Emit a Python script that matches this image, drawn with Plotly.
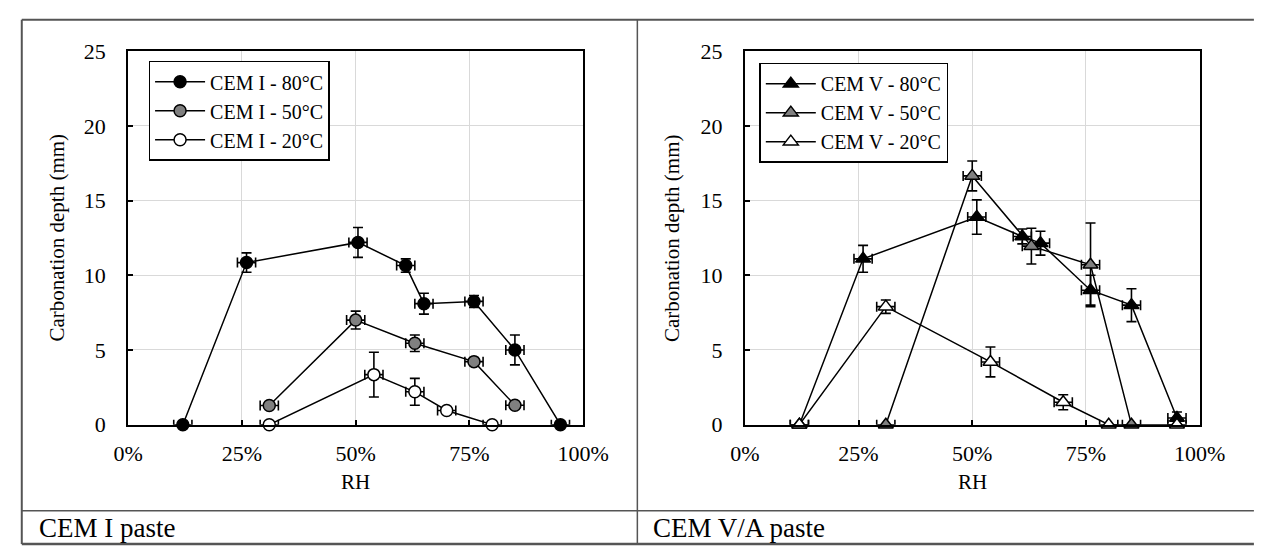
import plotly.graph_objects as go

W, H = 1277, 559

# ---------------- data ----------------
# CEM I paste
cem1_80_rh = [0.12, 0.26, 0.505, 0.61, 0.65, 0.76, 0.85, 0.95]
cem1_80_depth = [0, 10.85, 12.2, 10.65, 8.1, 8.25, 5.0, 0]
cem1_80_err = [0, 0.65, 1.0, 0.45, 0.7, 0.4, 1.0, 0]

cem1_50_rh = [0.31, 0.50, 0.63, 0.76, 0.85]
cem1_50_depth = [1.28, 7.0, 5.45, 4.22, 1.3]
cem1_50_err = [0.15, 0.6, 0.55, 0.2, 0.15]

cem1_20_rh = [0.31, 0.54, 0.63, 0.70, 0.80]
cem1_20_depth = [0, 3.35, 2.2, 0.95, 0]
cem1_20_err = [0, 1.5, 0.9, 0.2, 0]

# CEM V/A paste
cem5_80_rh = [0.12, 0.26, 0.51, 0.61, 0.65, 0.76, 0.85, 0.95]
cem5_80_depth = [0, 11.1, 13.9, 12.6, 12.15, 9.0, 8.0, 0.45]
cem5_80_err = [0, 0.9, 1.15, 0.5, 0.8, 1.0, 1.1, 0.4]

cem5_50_rh = [0.31, 0.50, 0.63, 0.76, 0.85]
cem5_50_depth = [0, 16.65, 11.95, 10.7, 0]
cem5_50_err = [0, 1.0, 1.2, 2.8, 0]

cem5_20_rh = [0.12, 0.31, 0.54, 0.70, 0.80, 0.95]
cem5_20_depth = [0, 7.9, 4.2, 1.5, 0, 0]
cem5_20_err = [0, 0.45, 1.0, 0.5, 0, 0]

rh_err = 0.02

x_ticks = [0, 0.25, 0.5, 0.75, 1.0]
x_ticklabels = ["0%", "25%", "50%", "75%", "100%"]
y_ticks = [0, 5, 10, 15, 20, 25]

FONT = "Liberation Serif"

fig = go.Figure()


def add_series(name, xs, ys, errs, symbol, fill, xa, ya, leg):
    fig.add_trace(go.Scatter(
        x=xs, y=ys, name=name, mode="lines+markers",
        xaxis=xa, yaxis=ya, legend=leg,
        line=dict(color="black", width=1.5),
        marker=dict(symbol=symbol, size=12 if symbol == "circle" else 13,
                    color=fill, line=dict(color="black", width=1.5)),
        error_y=dict(type="data", array=errs, color="black", thickness=1.6, width=5),
        error_x=dict(type="constant", value=rh_err, color="black", thickness=1.6, width=5),
        cliponaxis=False,
    ))


add_series("CEM I - 80°C", cem1_80_rh, cem1_80_depth, cem1_80_err, "circle", "black", "x", "y", "legend")
add_series("CEM I - 50°C", cem1_50_rh, cem1_50_depth, cem1_50_err, "circle", "#808080", "x", "y", "legend")
add_series("CEM I - 20°C", cem1_20_rh, cem1_20_depth, cem1_20_err, "circle", "white", "x", "y", "legend")

add_series("CEM V - 80°C", cem5_80_rh, cem5_80_depth, cem5_80_err, "triangle-up", "black", "x2", "y2", "legend2")
add_series("CEM V - 50°C", cem5_50_rh, cem5_50_depth, cem5_50_err, "triangle-up", "#808080", "x2", "y2", "legend2")
add_series("CEM V - 20°C", cem5_20_rh, cem5_20_depth, cem5_20_err, "triangle-up", "white", "x2", "y2", "legend2")


def px(x):
    return x / W


def py(y):
    return 1 - y / H


axis_common = dict(
    showline=True, mirror=True, linecolor="black", linewidth=2,
    showgrid=True, gridcolor="#d9d9d9", gridwidth=1, zeroline=False,
    ticks="inside", ticklen=5, tickcolor="black", tickwidth=1.5,
    tickfont=dict(family=FONT, size=22, color="black"),
)

ydom = [py(432), py(41)]
fig.update_layout(
    xaxis=dict(domain=[px(117), px(587)], anchor="y", range=[0, 1],
               tickvals=x_ticks, ticktext=x_ticklabels, ticklabelstandoff=8, **axis_common),
    yaxis=dict(domain=ydom, anchor="x", range=[0, 25], tickvals=y_ticks,
               ticklabelstandoff=16, **axis_common),
    xaxis2=dict(domain=[px(754), px(1224)], anchor="y2", range=[0, 1],
                tickvals=x_ticks, ticktext=x_ticklabels, ticklabelstandoff=8, **axis_common),
    yaxis2=dict(domain=ydom, anchor="x2", range=[0, 25], tickvals=y_ticks,
                ticklabelstandoff=16, **axis_common),
)

legend_common = dict(
    xanchor="left", yanchor="top", bgcolor="white", bordercolor="black",
    borderwidth=1.5, font=dict(family=FONT, size=20, color="black"),
    itemwidth=50, tracegroupgap=0,
)
fig.update_layout(
    legend=dict(x=px(138), y=py(51), **legend_common),
    legend2=dict(x=px(769), y=py(53), **legend_common),
)

annotations = []
for cx in (43, 679):
    annotations.append(dict(
        text="Carbonation depth (mm)", x=px(cx), y=py(236.5), xref="paper", yref="paper",
        textangle=-90, showarrow=False, xanchor="center", yanchor="middle",
        font=dict(family=FONT, size=21, color="black")))
for cx in ((117 + 587) / 2, (754 + 1224) / 2):
    annotations.append(dict(
        text="RH", x=px(cx), y=py(492), xref="paper", yref="paper",
        showarrow=False, xanchor="center", yanchor="middle",
        font=dict(family=FONT, size=21, color="black")))
for lx, txt in ((23, "CEM I paste"), (657, "CEM V/A paste")):
    annotations.append(dict(
        text=txt, x=px(lx), y=py(540), xref="paper", yref="paper",
        showarrow=False, xanchor="left", yanchor="middle",
        font=dict(family=FONT, size=27, color="black")))

border = "#555555"
shapes = [
    dict(type="line", xref="paper", yref="paper", x0=px(7), x1=px(1280), y0=py(8), y1=py(8),
         line=dict(color=border, width=2)),
    dict(type="line", xref="paper", yref="paper", x0=px(7), x1=px(1280), y0=py(557), y1=py(557),
         line=dict(color=border, width=2.5)),
    dict(type="line", xref="paper", yref="paper", x0=px(7), x1=px(1280), y0=py(522), y1=py(522),
         line=dict(color=border, width=1.5)),
    dict(type="line", xref="paper", yref="paper", x0=px(7), x1=px(7), y0=py(8), y1=py(557),
         line=dict(color=border, width=2)),
    dict(type="line", xref="paper", yref="paper", x0=px(643), x1=px(643), y0=py(8), y1=py(557),
         line=dict(color=border, width=1.5)),
]

fig.update_layout(
    width=W, height=H, margin=dict(l=0, r=0, t=0, b=0),
    paper_bgcolor="white", plot_bgcolor="white",
    font=dict(family=FONT, color="black"),
    annotations=annotations, shapes=shapes,
)

fig.write_html("out.html")
